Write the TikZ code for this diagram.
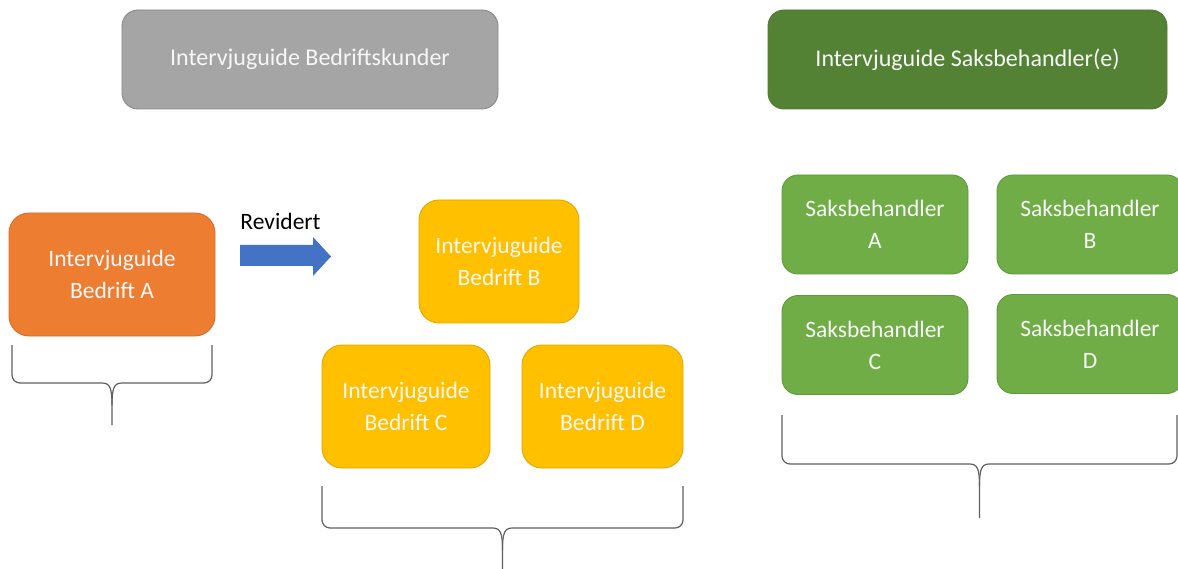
\documentclass[tikz,border=0pt]{standalone}
\usepackage{fontspec}
\setmainfont{Carlito}
\definecolor{grayfill}{HTML}{A5A5A5}
\definecolor{grayline}{HTML}{8A8A8A}
\definecolor{dgreen}{HTML}{548235}
\definecolor{dgreenline}{HTML}{4E7A31}
\definecolor{orangefill}{HTML}{ED7D31}
\definecolor{orangeline}{HTML}{D86E28}
\definecolor{yellowfill}{HTML}{FFC000}
\definecolor{yellowline}{HTML}{E0A800}
\definecolor{lgreen}{HTML}{70AD47}
\definecolor{lgreenline}{HTML}{5E9A3B}
\definecolor{bluefill}{HTML}{4472C4}
\definecolor{bracecol}{HTML}{606060}
\definecolor{txtwhite}{HTML}{F7F7F7}
\tikzset{
  box/.style={rectangle, rounded corners=16pt, inner sep=0pt, outer sep=0pt, line width=0.9pt,
    align=center, text=txtwhite, font=\fontsize{23.5}{32}\selectfont},
  graybox/.style={box, fill=grayfill, draw=grayline, font=\fontsize{24}{32}\selectfont},
  dgreenbox/.style={box, fill=dgreen, draw=dgreenline, font=\fontsize{24}{32}\selectfont},
  orangebox/.style={box, fill=orangefill, draw=orangeline, rounded corners=20pt},
  yellowbox/.style={box, fill=yellowfill, draw=yellowline, rounded corners=20pt},
  lgreenbox/.style={box, fill=lgreen, draw=lgreenline},
  brace/.style={draw=bracecol, line width=1.2pt, line join=round},
  blockarrow/.style={fill=bluefill, draw=none},
}
\newcommand{\mybrace}[5]{% x1, x2, top, h, tip
  \draw[brace] (#1,#3) -- (#1,#4-8) to[out=-90,in=180] (#1+8,#4)
     -- ({(#1+#2)/2-10},#4) .. controls ({(#1+#2)/2-2},#4) and ({(#1+#2)/2},#4+5) .. ({(#1+#2)/2},#4+22)
     -- ({(#1+#2)/2},#5);
  \draw[brace] (#2,#3) -- (#2,#4-8) to[out=-90,in=0] (#2-8,#4)
     -- ({(#1+#2)/2+10},#4) .. controls ({(#1+#2)/2+2},#4) and ({(#1+#2)/2},#4+5) .. ({(#1+#2)/2},#4+22);
}
\begin{document}
\begin{tikzpicture}[x=1pt,y=-1pt]
\useasboundingbox (0,0) rectangle (1178,569);
\fill[white] (0,0) rectangle (1178,569);

% header boxes
\node[graybox, minimum width=376pt, minimum height=99pt] (hdrL) at (310,59.5) {Intervjuguide Bedriftskunder};
\node[dgreenbox, minimum width=399pt, minimum height=99pt] (hdrR) at (967.5,59.5) {Intervjuguide Saksbehandler(e)};

% left group
\node[orangebox, minimum width=206pt, minimum height=123pt] (bedA) at (112,274.5) {Intervjuguide\\Bedrift A};
\node[font=\fontsize{23.5}{28}\selectfont, text=black, inner sep=0pt] (rev) at (280.5,221) {Revidert};
\path[blockarrow] (240,245) coordinate (arrS) -- (313,245) -- (313,237) -- (331,256.5) coordinate (arrT)
   -- (313,276) -- (313,266) -- (240,266) -- cycle;

\node[yellowbox, minimum width=160pt, minimum height=123pt] (bedB) at (499,261.5) {Intervjuguide\\Bedrift B};
\node[yellowbox, minimum width=168pt, minimum height=123pt] (bedC) at (406,406.5) {Intervjuguide\\Bedrift C};
\node[yellowbox, minimum width=161pt, minimum height=123pt] (bedD) at (602.5,406.5) {Intervjuguide\\Bedrift D};

% right group
\node[lgreenbox, minimum width=186pt, minimum height=99pt] (saA) at (875,224.5) {Saksbehandler\\A};
\node[lgreenbox, minimum width=186pt, minimum height=99pt] (saB) at (1090,224.5) {Saksbehandler\\B};
\node[lgreenbox, minimum width=186pt, minimum height=99pt] (saC) at (875,345) {Saksbehandler\\C};
\node[lgreenbox, minimum width=186pt, minimum height=99pt] (saD) at (1090,344) {Saksbehandler\\D};

% braces
\mybrace{12}{212}{345}{383}{425}
\mybrace{322}{683}{486}{528}{569}
\mybrace{782}{1177}{415}{464}{518}
\end{tikzpicture}
\end{document}
